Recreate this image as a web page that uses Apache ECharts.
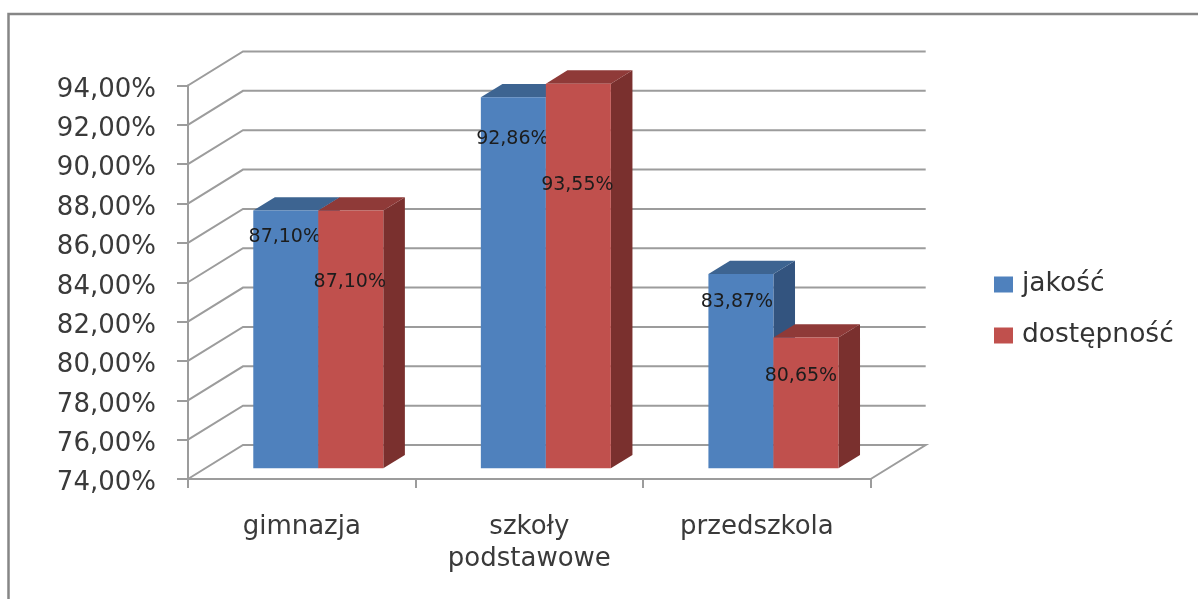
<!DOCTYPE html>
<html lang="pl">
<head>
    <meta charset="UTF-8"/>
    <title>jakość i dostępność</title>
    <script src="https://cdn.jsdelivr.net/npm/echarts@6/dist/echarts.min.js"></script>
    <style>
        html, body { margin: 0; padding: 0; background: #fff; }
        #main { width: 1198px; height: 599px; }
    </style>
</head>
<body>
<div id="main"></div>
<script type="text/javascript">
    // dane z wykresu
    var categories = ['gimnazja', 'szkoły\npodstawowe', 'przedszkola'];
    var jakosc = [87.10, 92.86, 83.87];
    var dostepnosc = [87.10, 93.55, 80.65];
    var yTicks = [74, 76, 78, 80, 82, 84, 86, 88, 90, 92, 94];

    // "3D" look, in pixels
    var WALL_DX = 55, WALL_DY = -34;    // front plane -> back wall
    var BAR_DX = 16.5, BAR_DY = -10.7;  // front plane -> bar front
    var SIDE_DX = 21.6, SIDE_DY = -13.3; // bar depth
    var BAR_W = 65;
    var FONT = '"DejaVu Sans", sans-serif';
    var LINE = '#9c9c9c';

    // where excel left the data labels: [dx, drop from bar top]
    var labelNudge = [
        [[-1, 27], [-1, 42], [-4, 28]],
        [[-1, 72], [-1, 101], [-5, 39]]
    ];

    function fmt(v) {
        return v.toFixed(2).replace('.', ',') + '%';
    }

    function pairs(values) {
        return values.map(function (v, i) { return [i, v]; });
    }

    function renderWall(params, api) {
        var cs = params.coordSys;
        var v = api.value(1);
        var y = api.coord([0, v])[1];
        var x0 = cs.x, x1 = cs.x + cs.width;
        var pts = [[x0, y], [x0 + WALL_DX, y + WALL_DY], [x1 + WALL_DX, y + WALL_DY]];
        if (v === yTicks[0]) pts.push([x1, y]);
        // front vertical axis line hangs off the top gridline
        if (v === yTicks[yTicks.length - 1]) pts.unshift([x0, api.coord([0, yTicks[0]])[1]]);
        return {
            type: 'polyline',
            shape: { points: pts },
            style: { stroke: LINE, lineWidth: 2, fill: null }
        };
    }

    function barRenderer(seriesIdx, front, top, side) {
        return function (params, api) {
            var i = api.value(0), v = api.value(1);
            var base = api.coord([i, yTicks[0]]);
            var tip = api.coord([i, v]);
            var x0 = base[0] + BAR_DX - BAR_W + seriesIdx * BAR_W;
            var x1 = x0 + BAR_W;
            var yb = base[1] + BAR_DY;
            var yt = tip[1] + BAR_DY;
            var nudge = labelNudge[seriesIdx][i];
            return {
                type: 'group',
                children: [
                    {
                        type: 'polygon',
                        shape: { points: [[x1, yb], [x1 + SIDE_DX, yb + SIDE_DY], [x1 + SIDE_DX, yt + SIDE_DY], [x1, yt]] },
                        style: { fill: side }
                    },
                    {
                        type: 'polygon',
                        shape: { points: [[x0, yt], [x0 + SIDE_DX, yt + SIDE_DY], [x1 + SIDE_DX, yt + SIDE_DY], [x1, yt]] },
                        style: { fill: top }
                    },
                    {
                        type: 'rect',
                        shape: { x: x0, y: yt, width: BAR_W, height: yb - yt },
                        style: { fill: front }
                    },
                    {
                        type: 'text',
                        z2: 50,
                        x: (x0 + x1) / 2 + nudge[0],
                        y: yt + nudge[1],
                        style: {
                            text: fmt(v),
                            fill: '#1c1c1c',
                            font: '19px ' + FONT,
                            align: 'center',
                            verticalAlign: 'middle'
                        }
                    }
                ]
            };
        };
    }

    var myChart = echarts.init(document.getElementById('main'));

    var option = {
        animation: false,
        backgroundColor: '#fff',
        grid: { left: 188, top: 85.5, width: 682.7, height: 393.5, containLabel: false },
        graphic: [{
            type: 'polyline',
            silent: true,
            shape: { points: [[8.5, 600], [8.5, 14], [1199, 14]] },
            style: { stroke: '#868686', lineWidth: 2.5, fill: null }
        }],
        legend: {
            orient: 'vertical',
            left: 994,
            top: 271,
            padding: 0,
            itemWidth: 19,
            itemHeight: 16,
            itemGap: 24,
            icon: 'rect',
            data: [
                { name: 'jakość', itemStyle: { color: '#4f81bd' } },
                { name: 'dostępność', itemStyle: { color: '#c0504d' } }
            ],
            textStyle: { fontFamily: FONT, fontSize: 26.5, color: '#333', padding: [0, 0, 0, 4] }
        },
        xAxis: {
            type: 'category',
            data: categories,
            axisLine: { show: true, lineStyle: { color: LINE, width: 2 } },
            axisTick: { show: true, length: 9, lineStyle: { color: LINE, width: 2 } },
            axisLabel: {
                fontFamily: FONT,
                fontSize: 26,
                lineHeight: 32,
                color: '#3a3a3a',
                margin: 32,
                interval: 0
            }
        },
        yAxis: {
            type: 'value',
            min: 74,
            max: 94,
            interval: 2,
            splitLine: { show: false },
            axisLine: { show: true, onZero: false, lineStyle: { color: LINE, width: 2 } },
            axisTick: { show: true, length: 11, lineStyle: { color: LINE, width: 2 } },
            axisLabel: {
                fontFamily: FONT,
                fontSize: 26,
                color: '#3a3a3a',
                margin: 32,
                verticalAlign: 'top',
                lineHeight: 3,
                padding: [3, 0, 0, 0],
                formatter: fmt
            }
        },
        series: [
            {
                name: 'siatka',
                type: 'custom',
                z: 1,
                silent: true,
                clip: false,
                renderItem: renderWall,
                data: yTicks.map(function (t) { return [0, t]; }),
                encode: { x: 0, y: 1 }
            },
            {
                name: 'jakość',
                type: 'custom',
                z: 2,
                clip: false,
                renderItem: barRenderer(0, '#4f81bd', '#3d6491', '#33547f'),
                data: pairs(jakosc),
                encode: { x: 0, y: 1 }
            },
            {
                name: 'dostępność',
                type: 'custom',
                z: 3,
                clip: false,
                renderItem: barRenderer(1, '#c0504d', '#8f3a38', '#7a302e'),
                data: pairs(dostepnosc),
                encode: { x: 0, y: 1 }
            }
        ]
    };

    myChart.setOption(option);
</script>
</body>
</html>
